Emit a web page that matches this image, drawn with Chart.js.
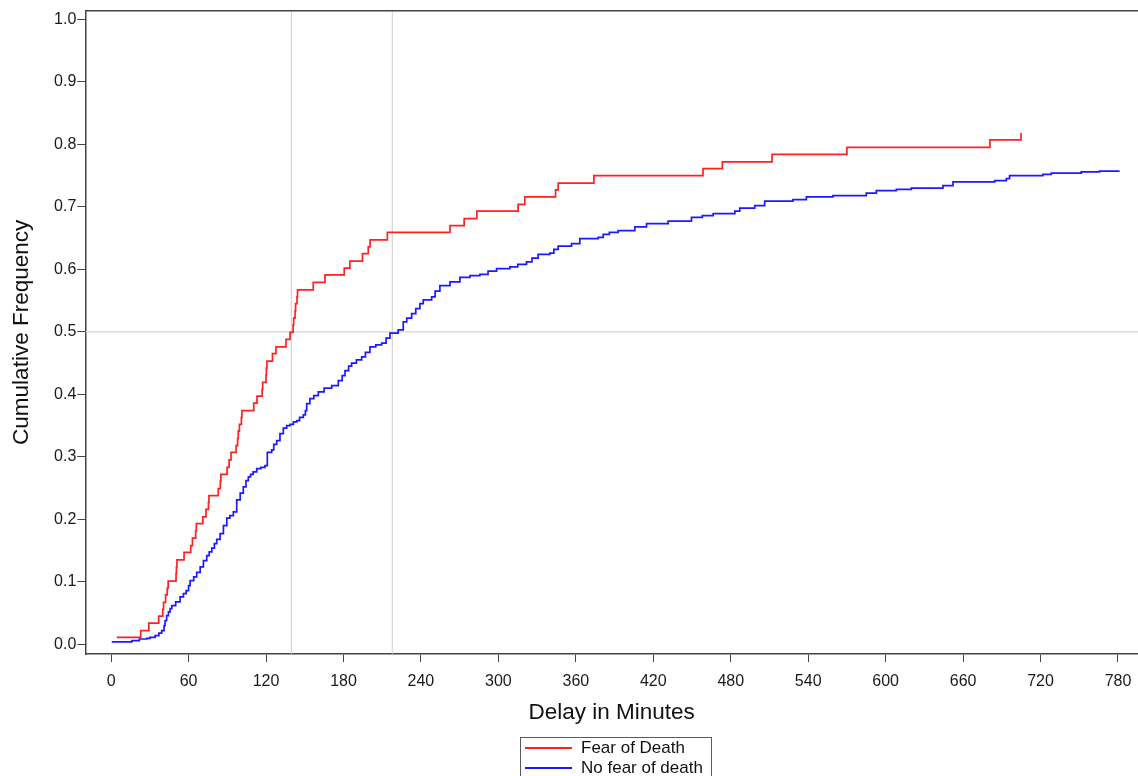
<!DOCTYPE html>
<html>
<head>
<meta charset="utf-8">
<title>Cumulative frequency of delay</title>
<script src="https://cdn.jsdelivr.net/npm/chart.js@4.4.1/dist/chart.umd.min.js"></script>
<style>
  html, body { margin: 0; padding: 0; background: #fff; }
  #wrap { position: relative; width: 1138px; height: 776px; overflow: hidden; }
  #cdfChart { display: block; }
  .legend-box {
    position: absolute; left: 520px; top: 737px; width: 190px; height: 60px;
    border: 1px solid #5a5a5a;
    font-family: "Liberation Sans", Arial, sans-serif; font-size: 17px; color: #111;
  }
  .legend-row { position: absolute; left: 0; width: 190px; height: 20px; line-height: 20px; white-space: nowrap; }
  .legend-row .swatch { position: absolute; left: 4px; top: 9px; width: 47px; height: 2px; }
  .legend-row .lbl { position: absolute; left: 60px; top: 0; }
</style>
</head>
<body>
<div id="wrap">
  <canvas id="cdfChart" width="1138" height="776"></canvas>
  <div class="legend-box" id="legendBox"></div>
</div>
<script>
// axis ticks
var xTicks = [0, 60, 120, 180, 240, 300, 360, 420, 480, 540, 600, 660, 720, 780];
var yTicks = [0, 0.1, 0.2, 0.3, 0.4, 0.5, 0.6, 0.7, 0.8, 0.9, 1.0];

// Fear of Death: delay (min) and cumulative frequency after each step
var fearDelay = [4.4, 22.9, 29.2, 36.9, 40.0, 40.6, 42.2, 43.5, 44.2, 50.3, 50.6, 51.0,
  56.5, 61.7, 63.0, 65.5, 66.0, 71.0, 73.5, 75.4, 75.8, 83.0, 84.6, 85.0,
  89.8, 91.4, 92.9, 96.8, 98.0, 98.5, 99.4, 100.9, 101.3, 110.5, 113.0, 117.0,
  117.4, 120.0, 120.3, 120.7, 125.0, 127.7, 135.5, 138.6, 141.0, 141.4, 142.5, 142.9,
  144.0, 144.4, 156.6, 165.7, 180.6, 185.0, 194.7, 199.2, 200.6, 214.0, 262.5, 273.5,
  283.3, 315.3, 320.5, 344.3, 346.3, 374.0, 458.5, 473.5, 512.0, 570.0, 680.8, 704.9];
var fearFreq = [0.011, 0.022, 0.034, 0.045, 0.056, 0.067, 0.079, 0.090, 0.101, 0.113, 0.124, 0.135,
  0.147, 0.158, 0.170, 0.181, 0.193, 0.204, 0.216, 0.227, 0.238, 0.249, 0.261, 0.272,
  0.283, 0.295, 0.307, 0.318, 0.329, 0.341, 0.352, 0.363, 0.374, 0.386, 0.397, 0.408,
  0.419, 0.431, 0.442, 0.453, 0.465, 0.476, 0.488, 0.499, 0.511, 0.522, 0.533, 0.545,
  0.556, 0.567, 0.579, 0.591, 0.602, 0.613, 0.625, 0.636, 0.647, 0.659, 0.670, 0.681,
  0.693, 0.704, 0.716, 0.727, 0.738, 0.750, 0.761, 0.772, 0.784, 0.795, 0.807, 0.818];

// No fear of death
var noFearDelay = [0.5, 16, 21.9, 27.6, 30, 34.1, 37, 39.2, 41, 41.8, 43, 44.4, 45.7, 47,
  50, 53.4, 56, 58.1, 60, 61.2, 64, 66.3, 69, 71.5, 74.1, 76, 78, 80, 81.8, 84.4,
  87, 89.6, 92, 94.7, 97.3, 100, 102.4, 104.5, 106.3, 108, 110, 112.8, 116, 119.2,
  121, 124.4, 126, 128.3, 130.8, 133.4, 136, 138.6, 141.2, 143.8, 146, 148.9, 150.5,
  151.5, 154, 157, 160.5, 165, 170.9, 176, 179, 181.2, 184, 186.3, 190, 194.1, 197,
  200.5, 205, 209.6, 213, 216, 222.4, 226.3, 229, 232.8, 236, 239.2, 241.8, 248.3,
  251, 254.7, 262.5, 270.2, 278, 285.7, 292, 298.6, 308.9, 315, 321.8, 326, 330.8,
  339.9, 343, 346.3, 356.7, 363.1, 377.3, 381.2, 386, 392.8, 405.7, 414.8, 431.5,
  449.6, 458, 466.4, 483.2, 487, 498.6, 506.3, 528.2, 538.6, 559.2, 585, 592.8,
  608.3, 619.9, 644.4, 652.2, 684.5, 693.5, 696, 721.8, 728.3, 751.5, 765.7, 780.7];
var noFearFreq = [0.004, 0.006, 0.0085, 0.0095, 0.011, 0.014, 0.018, 0.022, 0.030, 0.038, 0.046, 0.052, 0.057, 0.062,
  0.068, 0.076, 0.081, 0.086, 0.094, 0.102, 0.108, 0.115, 0.124, 0.134, 0.142, 0.148, 0.154, 0.161, 0.168, 0.177,
  0.190, 0.202, 0.206, 0.212, 0.231, 0.242, 0.252, 0.262, 0.268, 0.272, 0.276, 0.281, 0.283, 0.286,
  0.307, 0.311, 0.320, 0.326, 0.337, 0.346, 0.350, 0.352, 0.356, 0.358, 0.363, 0.367, 0.374,
  0.385, 0.393, 0.398, 0.404, 0.410, 0.414, 0.422, 0.430, 0.438, 0.445, 0.450, 0.455, 0.460, 0.467,
  0.476, 0.479, 0.482, 0.490, 0.498, 0.503, 0.516, 0.522, 0.529, 0.537, 0.545, 0.551, 0.556,
  0.565, 0.574, 0.580, 0.587, 0.590, 0.592, 0.597, 0.601, 0.604, 0.608, 0.612, 0.618, 0.624,
  0.626, 0.632, 0.637, 0.641, 0.649, 0.651, 0.656, 0.659, 0.662, 0.668, 0.673, 0.677,
  0.683, 0.686, 0.689, 0.693, 0.698, 0.702, 0.709, 0.7115, 0.716, 0.718, 0.722, 0.726,
  0.728, 0.730, 0.734, 0.740, 0.742, 0.745, 0.750, 0.752, 0.754, 0.756, 0.757, 0.758];

// medians (vertical guides) and the 50% guide
var medianDelay = [139.6, 217.8];
var halfFreq = 0.5;

var seriesNames = ['Fear of Death', 'No fear of death'];
var seriesColors = ['#ff2020', '#1a1aff'];

var xMin = -20, xMax = 795.5;
var yMin = -0.0155, yMax = 1.0138;
var fontFam = '"Liberation Sans", Arial, Helvetica, sans-serif';
var guideColor = '#cccccc';
var axisColor = '#444444';

function toPoints(xs, ys) {
  return xs.map(function (x, i) { return { x: x, y: ys[i] }; });
}

var datasets = [
  { label: seriesNames[0], data: toPoints(fearDelay, fearFreq), borderColor: seriesColors[0],
    borderWidth: 1.7, stepped: 'before', pointRadius: 0, fill: false },
  { label: seriesNames[1], data: toPoints(noFearDelay, noFearFreq), borderColor: seriesColors[1],
    borderWidth: 1.7, stepped: 'before', pointRadius: 0, fill: false }
];
medianDelay.forEach(function (m) {
  datasets.push({ label: 'median', data: [{ x: m, y: yMin }, { x: m, y: yMax }],
    borderColor: guideColor, borderWidth: 1, pointRadius: 0, fill: false });
});
datasets.push({ label: 'half', data: [{ x: xMin, y: halfFreq }, { x: xMax, y: halfFreq }],
  borderColor: guideColor, borderWidth: 1, pointRadius: 0, fill: false });

// top border of the plot frame
var frameTop = {
  id: 'frameTop',
  afterDraw: function (chart) {
    var a = chart.chartArea, ctx = chart.ctx;
    ctx.save();
    ctx.strokeStyle = axisColor;
    ctx.lineWidth = 1.5;
    ctx.beginPath();
    ctx.moveTo(a.left, a.top);
    ctx.lineTo(a.right, a.top);
    ctx.stroke();
    ctx.restore();
  }
};

var ctx = document.getElementById('cdfChart').getContext('2d');
var chart = new Chart(ctx, {
  type: 'line',
  data: { datasets: datasets },
  plugins: [frameTop],
  options: {
    responsive: false,
    animation: false,
    devicePixelRatio: 1,
    layout: { padding: { left: 0, right: 0, top: 10.7, bottom: 42 } },
    plugins: { legend: { display: false }, tooltip: { enabled: false } },
    scales: {
      x: {
        type: 'linear', min: xMin, max: xMax,
        afterBuildTicks: function (axis) { axis.ticks = xTicks.map(function (v) { return { value: v }; }); },
        afterFit: function (axis) { axis.height = 80; axis.paddingLeft = 0; axis.paddingRight = 0; },
        grid: { drawOnChartArea: false, drawTicks: true, tickLength: 8, color: axisColor, lineWidth: 1 },
        border: { display: true, color: axisColor, width: 1.5 },
        ticks: { padding: 10, autoSkip: false, maxRotation: 0, color: '#1a1a1a', font: { family: fontFam, size: 16 } },
        title: { display: true, text: 'Delay in Minutes', color: '#111',
          font: { family: fontFam, size: 22.5 }, padding: { top: 0, bottom: 8 } }
      },
      y: {
        type: 'linear', min: yMin, max: yMax,
        afterBuildTicks: function (axis) { axis.ticks = yTicks.map(function (v) { return { value: v }; }); },
        afterFit: function (axis) { axis.width = 85.3; },
        grid: { drawOnChartArea: false, drawTicks: true, tickLength: 8, color: axisColor, lineWidth: 1 },
        border: { display: true, color: axisColor, width: 1.5 },
        ticks: { padding: 1, color: '#1a1a1a', font: { family: fontFam, size: 16 },
          callback: function (v) { return v.toFixed(1); } },
        title: { display: true, text: 'Cumulative Frequency', color: '#111',
          font: { family: fontFam, size: 22.5 }, padding: { top: 8, bottom: 0 } }
      }
    }
  }
});

// legend box under the plot
var box = document.getElementById('legendBox');
seriesNames.forEach(function (name, i) {
  var row = document.createElement('div');
  row.className = 'legend-row';
  row.style.top = (0.3 + i * 19.4) + 'px';
  row.innerHTML = '<span class="swatch" style="background-color:' + seriesColors[i] + '"></span>' +
    '<span class="lbl">' + name + '</span>';
  box.appendChild(row);
});
</script>
</body>
</html>
